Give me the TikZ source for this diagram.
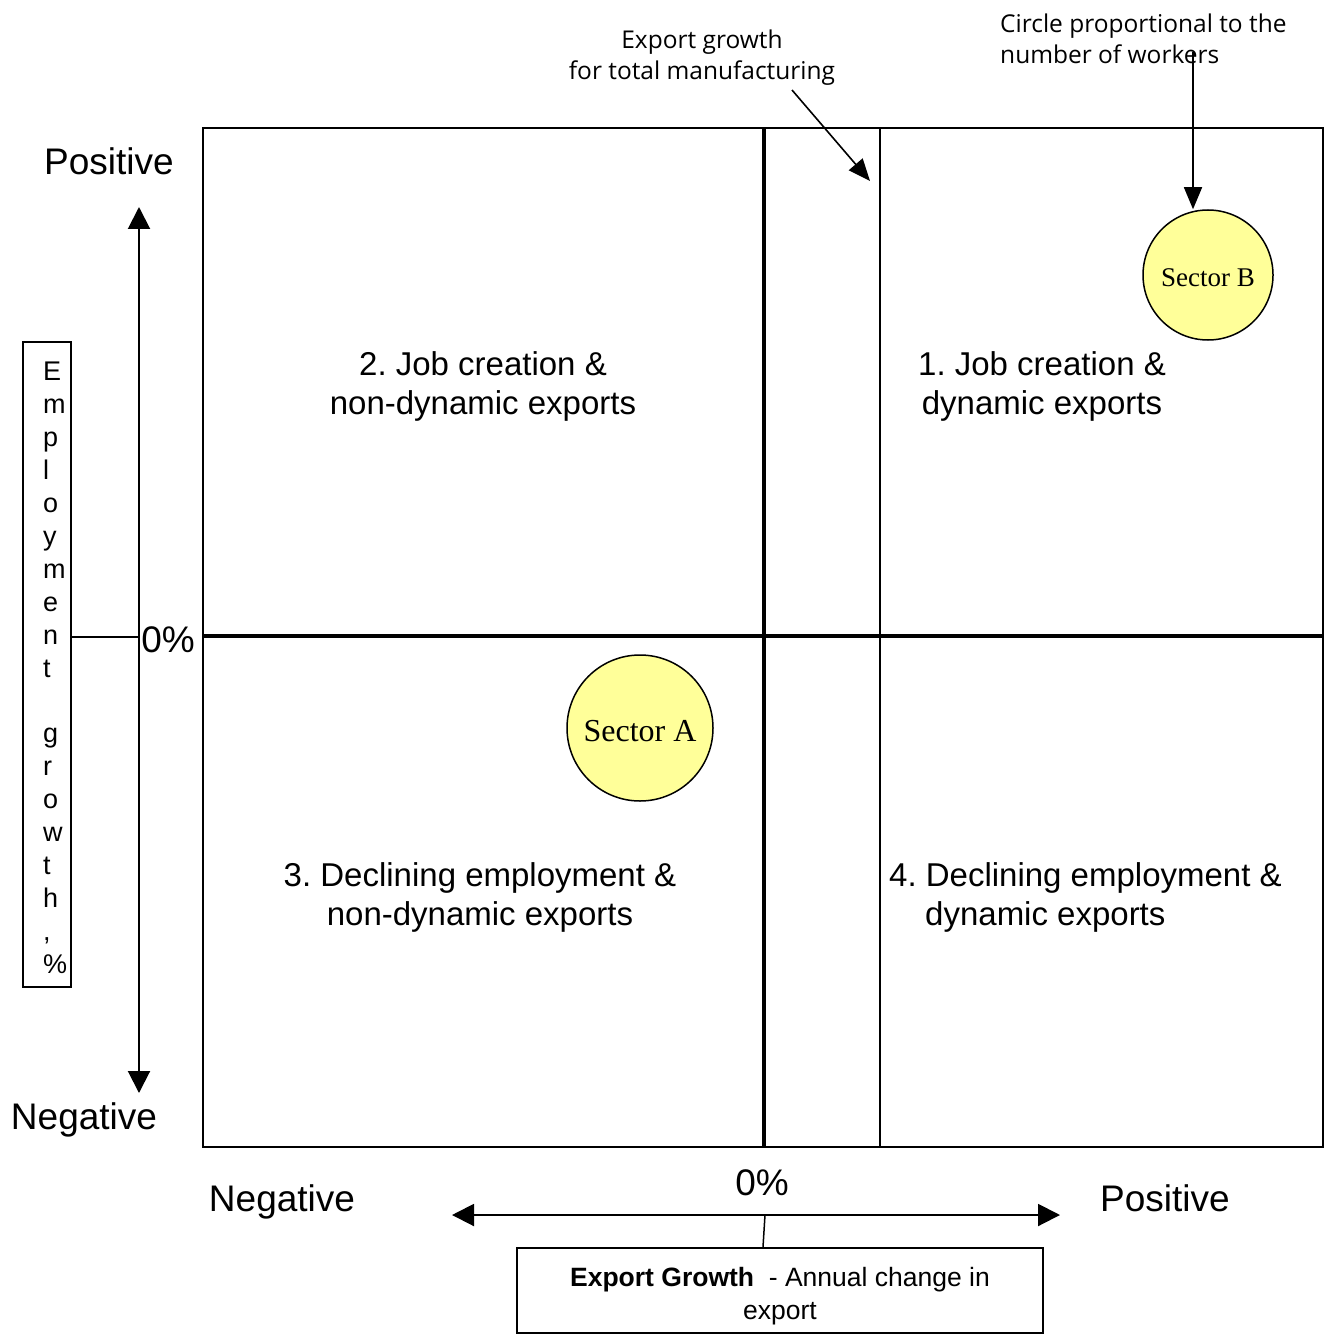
\documentclass[tikz,border=0pt]{standalone}
\usepackage{fontspec}
\setmainfont{Liberation Sans}
\newfontfamily\serifface{Liberation Serif}
\newfontfamily\annface{Open Sans}
\usetikzlibrary{arrows.meta,calc}
\definecolor{secyellow}{RGB}{255,255,153}
\tikzset{
  frameline/.style={line width=2pt},
  thickline/.style={line width=3.5pt},
  thinline/.style={line width=1.5pt},
  axisarrow/.style={line width=2pt, {Triangle[length=22pt,width=22pt]}-{Triangle[length=22pt,width=22pt]}},
  callout/.style={line width=1.6pt, -{Triangle[length=22pt,width=18pt]}},
  sector/.style={circle, draw, line width=1.5pt, fill=secyellow, inner sep=0pt},
  quadlabel/.style={font=\fontsize{33}{39}\selectfont, align=center, inner sep=0pt},
  endlabel/.style={font=\fontsize{37}{44}\selectfont, inner sep=0pt},
  annlabel/.style={font=\annface\fontsize{24.5}{31}\selectfont, inner sep=0pt},
  boxed/.style={draw, frameline, inner sep=0pt}
}
\frenchspacing
\begin{document}
\begin{tikzpicture}[x=1pt,y=-1pt]
\useasboundingbox (0,0) rectangle (1325,1337);
% main frame and quadrant lines
\node[boxed, minimum width=1120pt, minimum height=1019pt] (frame) at (763,637.5) {};
\draw[thickline] (764,128) -- (764,1147);
\draw[frameline] (880,128) -- (880,1147);
\draw[thickline] (203,636) -- (1323,636);
% sectors
\node[sector, minimum size=130pt, text height=24pt, font=\serifface\fontsize{27}{30}\selectfont] (sb) at (1208,275) {Sector B};
\node[sector, minimum size=146pt, text height=27pt, font=\serifface\fontsize{32}{36}\selectfont] (sa) at (640,728) {Sector A};
% quadrant labels
\node[quadlabel] (q2) at (483,386.5) {2. Job creation \&\\non-dynamic exports};
\node[quadlabel] (q1) at (1042,386.5) {1. Job creation \&\\dynamic exports};
\node[quadlabel] (q3) at (480,897.5) {3. Declining employment \&\\non-dynamic exports};
\node[quadlabel, align=left, anchor=west] (q4) at (889,897.5) {4. Declining employment \&\\\hspace*{36pt}dynamic exports};
% axis end labels
\node[endlabel] (ypos) at (109,161) {Positive};
\node[endlabel] (yneg) at (84,1120) {Negative};
\node[endlabel] (yzero) at (168,640) {0\%};
\node[endlabel] (xneg) at (282,1202) {Negative};
\node[endlabel] (xpos) at (1165,1198) {Positive};
\node[endlabel] (xzero) at (762,1183) {0\%};
% vertical axis
\coordinate (vtop) at (139,207);
\coordinate (vbot) at (139,1093);
\coordinate (vmid) at (139,637);
\draw[axisarrow] (vbot) -- (vtop);
\node[boxed, minimum width=48pt, minimum height=645pt, font=\fontsize{27}{32.9}\selectfont] (emp) at (47,664.5)
  {\makebox[8pt][l]{\begin{tabular}{@{}l@{}}\rule{0pt}{35pt}E\\m\\p\\l\\o\\y\\m\\e\\n\\t\\ \\g\\r\\o\\w\\t\\h\\,\\\%\end{tabular}}};
\draw[thinline] (emp.east |- vmid) -- (vmid);
% horizontal axis
\coordinate (hl) at (452,1215);
\coordinate (hr) at (1060,1215);
\coordinate (hmid) at (765,1215);
\draw[axisarrow] (hl) -- (hr);
\node[boxed, minimum width=526pt, minimum height=85pt, align=center, font=\fontsize{26.5}{33}\selectfont] (eg) at (780,1290.5)
  {\rule{0pt}{30pt}\textbf{Export Growth}~~- Annual change in\\export};
\draw[thinline] (hmid) -- ($(eg.north)+(-17,0)$);
% annotations
\node[annlabel, align=center] (ann1) at (702,58) {Export growth\\for total manufacturing};
\coordinate (a1s) at (792,90);
\coordinate (a1e) at (870,181);
\draw[callout] (a1s) -- (a1e);
\node[annlabel, align=left, anchor=west] (ann2) at (1000,38.5) {Circle proportional to the\\number of workers};
\coordinate (a2s) at (1193,52);
\draw[callout] (a2s) -- (a2s |- sb.north);
\end{tikzpicture}
\end{document}
